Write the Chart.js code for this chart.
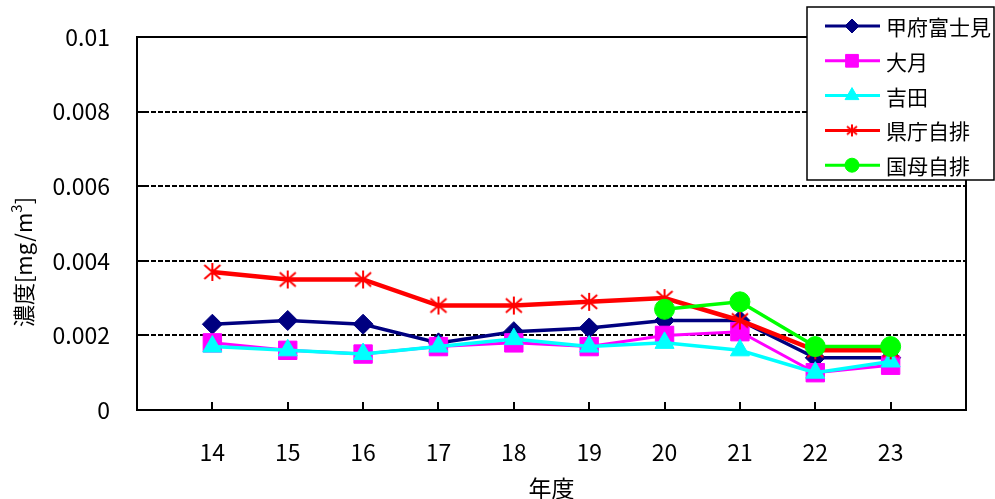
<!DOCTYPE html>
<html lang="ja">
<head>
<meta charset="UTF-8">
<title>濃度の推移</title>
<script src="https://cdn.jsdelivr.net/npm/chart.js"></script>
<style>
  html, body { margin: 0; padding: 0; background: #fff; }
</style>
</head>
<body>
<canvas id="chart" width="995" height="499"></canvas>
<script>
// 年度ごとの濃度 (mg/m3)
const years = [14, 15, 16, 17, 18, 19, 20, 21, 22, 23];
const kofuFujimi = [0.0023, 0.0024, 0.0023, 0.0018, 0.0021, 0.0022, 0.0024, 0.0024, 0.0014, 0.0014];
const otsuki     = [0.0018, 0.0016, 0.0015, 0.0017, 0.0018, 0.0017, 0.0020, 0.0021, 0.0010, 0.0012];
const yoshida    = [0.0017, 0.0016, 0.0015, 0.0017, 0.0019, 0.0017, 0.0018, 0.0016, 0.0010, 0.0013];
const kenchou    = [0.0037, 0.0035, 0.0035, 0.0028, 0.0028, 0.0029, 0.0030, 0.0024, 0.0016, 0.0016];
const kokubo     = [null, null, null, null, null, null, 0.0027, 0.0029, 0.0017, 0.0017];
const yTicks = [0, 0.002, 0.004, 0.006, 0.008, 0.01];

const FONT = "'Noto Sans CJK JP', 'Liberation Sans', sans-serif";

// asterisk marker (X with a vertical bar)
function makeStar(size) {
  const c = document.createElement('canvas');
  c.width = size; c.height = size;
  const g = c.getContext('2d');
  const m = 1, h = size / 2;
  g.strokeStyle = '#ff0000';
  g.lineWidth = 2;
  g.beginPath();
  g.moveTo(h, m); g.lineTo(h, size - m);
  g.moveTo(m + 1, m + 2); g.lineTo(size - m - 1, size - m - 2);
  g.moveTo(size - m - 1, m + 2); g.lineTo(m + 1, size - m - 2);
  g.stroke();
  return c;
}
const star = makeStar(20);
const starSmall = makeStar(14);

const pts = arr => years.map((y, i) => ({ x: y, y: arr[i] }));

const series = [
  { label: '甲府富士見', data: kofuFujimi, color: '#000080', style: 'rectRot', r: 10, lr: 7, w: 3.5, order: 5 },
  { label: '大月', data: otsuki, color: '#ff00ff', style: 'rect', r: 13, lr: 9, w: 3, order: 4 },
  { label: '吉田', data: yoshida, color: '#00ffff', style: 'triangle', r: 11, lr: 8, w: 3.5, order: 3 },
  { label: '県庁自排', data: kenchou, color: '#ff0000', style: star, r: 10, lr: 7, w: 4.5, order: 2, legendStyle: starSmall },
  { label: '国母自排', data: kokubo, color: '#00ff00', style: 'circle', r: 10, lr: 7, w: 3.5, order: 1 }
];

// frame, dashed grid lines and inward tick marks
const framePlugin = {
  id: 'frame',
  beforeDatasetsDraw(chart) {
    const { ctx, chartArea: a, scales: { x, y } } = chart;
    ctx.save();
    ctx.strokeStyle = '#000';
    ctx.lineWidth = 2;
    ctx.setLineDash([5, 2]);
    yTicks.forEach(v => {
      if (v === 0 || v === 0.01) return;
      const py = Math.round(y.getPixelForValue(v));
      ctx.beginPath(); ctx.moveTo(a.left, py); ctx.lineTo(a.right, py); ctx.stroke();
    });
    ctx.setLineDash([]);
    ctx.lineWidth = 2;
    ctx.beginPath();
    years.forEach(v => {
      const px = Math.round(x.getPixelForValue(v));
      ctx.moveTo(px, a.bottom); ctx.lineTo(px, a.bottom - 8);
    });
    yTicks.forEach(v => {
      const py = Math.round(y.getPixelForValue(v));
      ctx.moveTo(a.left, py); ctx.lineTo(a.left + 7, py);
    });
    ctx.stroke();
    ctx.strokeRect(a.left, a.top, a.right - a.left, a.bottom - a.top);
    ctx.restore();
  },
  afterDraw(chart) {
    const { ctx, chartArea: a } = chart;
    ctx.save();
    ctx.fillStyle = '#000';
    ctx.textBaseline = 'middle';

    // x title
    ctx.font = '23px ' + FONT;
    ctx.textAlign = 'center';
    ctx.fillText('年度', (a.left + a.right) / 2, 488);

    // y title with superscript
    ctx.translate(24, 262);
    ctx.rotate(-Math.PI / 2);
    const p1 = '濃度[mg/m', p2 = '3', p3 = ']';
    ctx.font = '22px ' + FONT;
    const w1 = ctx.measureText(p1).width, w3 = ctx.measureText(p3).width;
    ctx.font = '15px ' + FONT;
    const w2 = ctx.measureText(p2).width;
    const sx = -(w1 + w2 + w3) / 2;
    ctx.textAlign = 'left';
    ctx.font = '22px ' + FONT;
    ctx.fillText(p1, sx, 0);
    ctx.font = '15px ' + FONT;
    ctx.fillText(p2, sx + w1, -8);
    ctx.font = '22px ' + FONT;
    ctx.fillText(p3, sx + w1 + w2, 0);
    ctx.setTransform(1, 0, 0, 1, 0, 0);

    // legend
    const lx = 807, ly = 7, lw = 187, lh = 173;
    ctx.fillStyle = '#fff';
    ctx.fillRect(lx, ly, lw, lh);
    ctx.strokeStyle = '#000';
    ctx.lineWidth = 1.5;
    ctx.strokeRect(lx, ly, lw, lh);
    ctx.font = '21px ' + FONT;
    ctx.textAlign = 'left';
    series.forEach((s, i) => {
      const cy = 26 + i * 34.8;
      ctx.strokeStyle = s.color;
      ctx.fillStyle = s.color;
      ctx.lineWidth = 3;
      ctx.beginPath(); ctx.moveTo(825, cy); ctx.lineTo(880, cy); ctx.stroke();
      ctx.lineWidth = 1;
      Chart.helpers.drawPoint(ctx, { pointStyle: s.legendStyle || s.style, radius: s.lr, rotation: 0, borderWidth: 1 }, 852, cy);
      ctx.fillStyle = '#000';
      ctx.fillText(s.label, 886, cy + 1);
    });
    ctx.restore();
  }
};

new Chart(document.getElementById('chart'), {
  type: 'line',
  data: {
    datasets: series.map(s => ({
      label: s.label,
      data: pts(s.data),
      borderColor: s.color,
      backgroundColor: s.color,
      borderWidth: s.w,
      pointStyle: s.style,
      pointRadius: s.r,
      pointBorderWidth: 1,
      pointHoverRadius: s.r,
      tension: 0,
      spanGaps: false,
      order: s.order
    }))
  },
  options: {
    responsive: false,
    animation: false,
    events: [],
    layout: { autoPadding: false, padding: { top: 37, right: 29, left: 0, bottom: 0 } },
    plugins: { legend: { display: false }, tooltip: { enabled: false } },
    scales: {
      x: {
        type: 'linear',
        min: 13, max: 24,
        afterFit: s => { s.height = 89; s.paddingLeft = 0; s.paddingRight = 0; },
        afterBuildTicks: s => { s.ticks = [13].concat(years, [24]).map(v => ({ value: v })); },
        ticks: {
          callback: v => (v >= 14 && v <= 23) ? String(v) : '',
          font: { family: FONT, size: 23 },
          color: '#000',
          padding: 28,
          maxRotation: 0,
          autoSkip: false
        },
        grid: { display: false, drawTicks: false },
        border: { display: false }
      },
      y: {
        min: 0, max: 0.01,
        afterFit: s => { s.width = 137; s.paddingTop = 0; s.paddingBottom = 0; },
        afterBuildTicks: s => { s.ticks = yTicks.map(v => ({ value: v })); },
        ticks: {
          callback: v => String(Math.round(v * 1000) / 1000),
          font: { family: FONT, size: 23 },
          color: '#000',
          padding: 27
        },
        grid: { display: false, drawTicks: false },
        border: { display: false }
      }
    }
  },
  plugins: [framePlugin]
});
</script>
</body>
</html>
